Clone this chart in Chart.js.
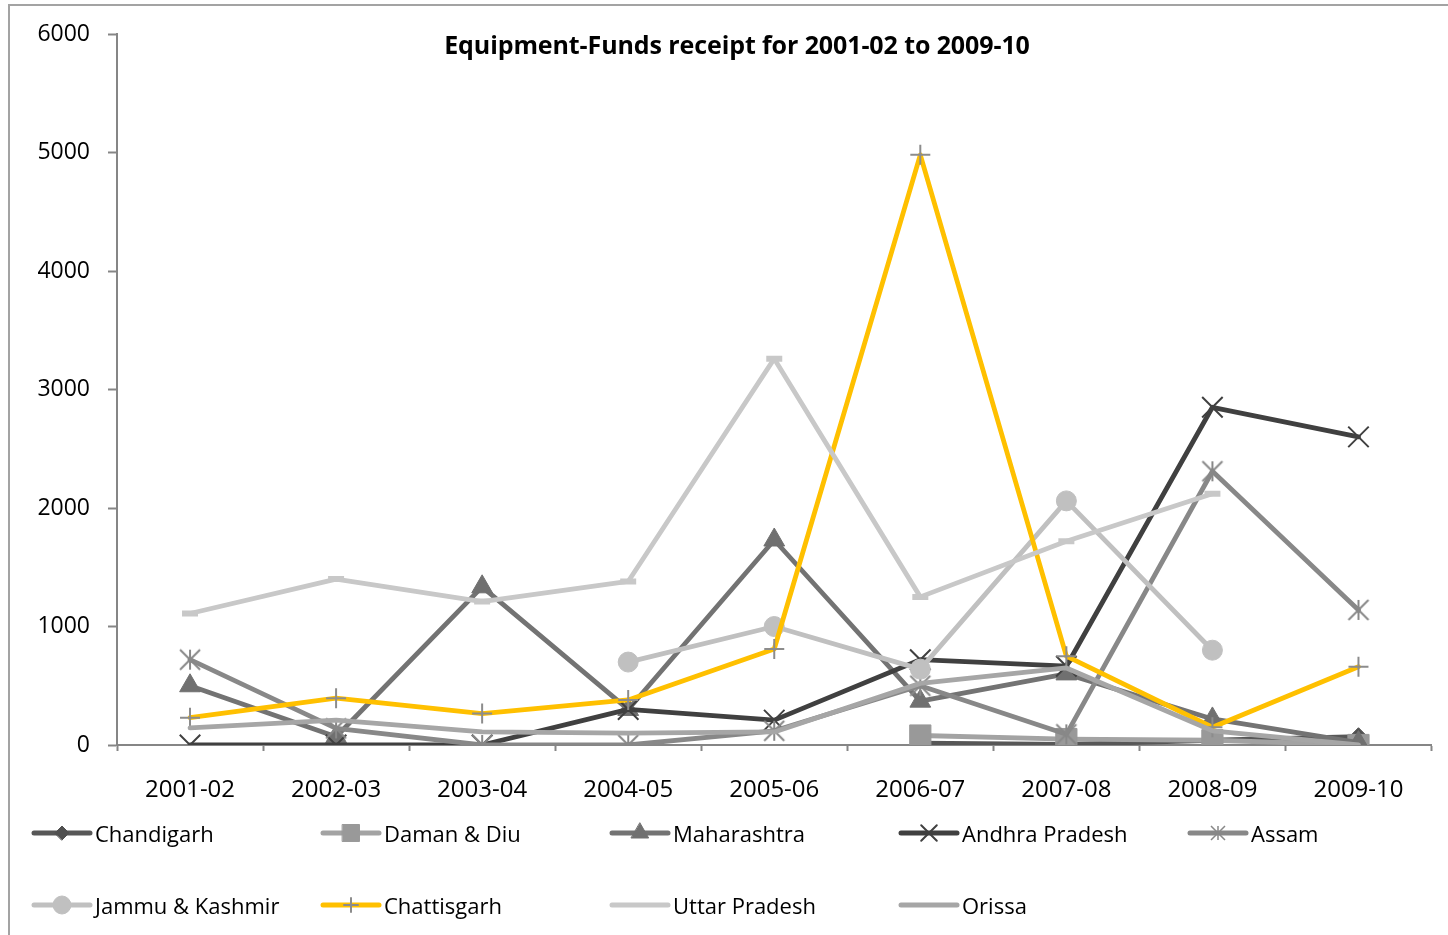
<!DOCTYPE html>
<html>
<head>
<meta charset="utf-8">
<script src="https://cdn.jsdelivr.net/npm/chart.js@4/dist/chart.umd.min.js"></script>
<style>
  html, body { margin: 0; padding: 0; background: #fff; overflow: hidden; }
  #wrap { position: relative; width: 1448px; height: 935px; overflow: hidden; }
  #frame { position: absolute; left: 8px; top: 4px; width: 1500px; height: 1000px; border: 2px solid #a3a3a3; box-sizing: border-box; }
  #c { position: absolute; left: 0; top: 0; }
  #title { position: absolute; left: 0; width: 1474px; top: 27px; text-align: center; font-family: "Open Sans", sans-serif; font-weight: bold; font-size: 25px; letter-spacing: -0.1px; color: #000; }
  .lg { position: absolute; height: 30px; display: flex; align-items: center; font-family: "Open Sans", sans-serif; font-size: 22px; color: #000; white-space: nowrap; }
  .lg canvas { margin-right: 1px; }
</style>
</head>
<body>
<div id="wrap">
  <div id="frame"></div>
  <canvas id="c" width="1448" height="935"></canvas>
  <div id="title">Equipment-Funds receipt for 2001-02 to 2009-10</div>
  <div id="legend"></div>
</div>
<script>
// ---- data ----
const categories = ['2001-02','2002-03','2003-04','2004-05','2005-06','2006-07','2007-08','2008-09','2009-10'];
const seriesNames = ['Chandigarh','Daman & Diu','Maharashtra','Andhra Pradesh','Assam','Jammu & Kashmir','Chattisgarh','Uttar Pradesh','Orissa'];
const chandigarh    = [null, null, null, null, null, 15, 5, 40, 70];
const damanDiu      = [null, null, null, null, null, 80, 50, 40, 0];
const maharashtra   = [500, 70, 1335, 300, 1730, 370, 600, 220, 20];
const andhraPradesh = [0, 0, 0, 300, 210, 720, 665, 2850, 2600];
const assam         = [720, 140, 0, 0, 120, 500, 90, 2310, 1140];
const jammuKashmir  = [null, null, null, 700, 1000, 640, 2060, 800, null];
const chattisgarh   = [230, 395, 265, 380, 810, 4980, 750, 150, 660];
const uttarPradesh  = [1110, 1400, 1210, 1380, 3260, 1250, 1720, 2120, null];
const orissa        = [145, 210, 110, 100, 110, 520, 650, 120, 0];
const yTicks = [0, 1000, 2000, 3000, 4000, 5000, 6000];
const yTickLabels = ['0', '1000', '2000', '3000', '4000', '5000', '6000'];

// asterisk marker (vertical + diagonals)
function makeAsterisk(color, half, lw) {
  const s = Math.ceil(half * 2 + lw + 2);
  const cv = document.createElement('canvas');
  cv.width = s; cv.height = s;
  const g = cv.getContext('2d');
  const c = s / 2;
  g.strokeStyle = color; g.lineWidth = lw;
  g.beginPath();
  g.moveTo(c, c - half); g.lineTo(c, c + half);
  g.moveTo(c - half, c - half); g.lineTo(c + half, c + half);
  g.moveTo(c + half, c - half); g.lineTo(c - half, c + half);
  g.stroke();
  return cv;
}

const styles = [
  { line: '#575757', fill: '#505050', border: '#505050', ps: 'rectRot', r: 9, bw: 1, lr: 7 },
  { line: '#a3a3a3', fill: '#999999', border: '#999999', ps: 'rect', r: 15, bw: 1, lr: 12 },
  { line: '#737373', fill: '#707070', border: '#707070', ps: 'triangle', r: 12, bw: 1, lr: 10 },
  { line: '#404040', fill: 'rgba(0,0,0,0)', border: '#404040', ps: 'crossRot', r: 14.5, bw: 2, lr: 11 },
  { line: '#888888', fill: 'rgba(0,0,0,0)', border: '#888888', ps: makeAsterisk('#888888', 10, 2), r: 10, bw: 2, lr: 8, lps: makeAsterisk('#888888', 7, 1.5) },
  { line: '#c0c0c0', fill: '#c0c0c0', border: '#c0c0c0', ps: 'circle', r: 10, bw: 1, lr: 9 },
  { line: '#ffc000', fill: 'rgba(0,0,0,0)', border: '#8c8c8c', ps: 'cross', r: 10, bw: 2, lr: 7 },
  { line: '#c8c8c8', fill: '#c8c8c8', border: '#c8c8c8', ps: 'line', r: 8, bw: 6, lr: 0 },
  { line: '#a6a6a6', fill: '#a6a6a6', border: '#a6a6a6', ps: 'circle', r: 0, bw: 0, lr: 0 }
];
const seriesData = [chandigarh, damanDiu, maharashtra, andhraPradesh, assam, jammuKashmir, chattisgarh, uttarPradesh, orissa];

const datasets = seriesNames.map((name, i) => ({
  label: name,
  data: seriesData[i],
  borderColor: styles[i].line,
  backgroundColor: styles[i].fill,
  borderWidth: 4.8,
  borderJoinStyle: 'round',
  borderCapStyle: 'round',
  pointStyle: styles[i].ps,
  pointRadius: styles[i].r,
  pointHoverRadius: styles[i].r,
  pointBackgroundColor: styles[i].fill,
  pointBorderColor: styles[i].border,
  pointBorderWidth: styles[i].bw,
  tension: 0,
  spanGaps: false,
  fill: false,
  order: 9 - i
}));

const axisColor = '#868686';

new Chart(document.getElementById('c'), {
  type: 'line',
  data: { labels: categories, datasets },
  options: {
    responsive: false,
    devicePixelRatio: 1,
    animation: false,
    events: [],
    layout: { padding: { left: 0, top: 34, right: 15, bottom: 130 } },
    plugins: { legend: { display: false }, title: { display: false }, tooltip: { enabled: false } },
    scales: {
      x: {
        type: 'category',
        offset: true,
        afterFit: s => { s.height = 60; },
        border: { display: true, color: axisColor, width: 2 },
        grid: { display: true, offset: true, drawOnChartArea: false, drawTicks: true, tickLength: 6, color: axisColor, tickColor: axisColor, tickWidth: 2 },
        ticks: { color: '#000', font: { family: 'Open Sans', size: 24 }, padding: 25, maxRotation: 0, autoSkip: false }
      },
      y: {
        min: 0, max: 6000,
        afterFit: s => { s.width = 117; },
        afterBuildTicks: s => { s.ticks = yTicks.map(v => ({ value: v })); },
        border: { display: true, color: axisColor, width: 2 },
        grid: { display: true, drawOnChartArea: false, drawTicks: true, tickLength: 9, color: axisColor, tickColor: axisColor, tickWidth: 2 },
        ticks: { color: '#000', font: { family: 'Open Sans', size: 23 }, padding: 18,
                 callback: (v) => yTickLabels[yTicks.indexOf(v)] }
      }
    }
  }
});

// HTML legend
const legend = document.getElementById('legend');
seriesNames.forEach((name, i) => {
  const row = Math.floor(i / 5), col = i % 5;
  const item = document.createElement('div');
  item.className = 'lg';
  item.style.left = (30 + col * 289) + 'px';
  item.style.top = (row === 0 ? 818 : 890) + 'px';
  const cv = document.createElement('canvas');
  cv.width = 64; cv.height = 30;
  const g = cv.getContext('2d');
  const st = styles[i];
  g.strokeStyle = st.line; g.lineWidth = 5; g.lineCap = 'round';
  g.beginPath(); g.moveTo(4, 15); g.lineTo(60, 15); g.stroke();
  if (st.lr > 0) {
    g.fillStyle = st.fill; g.strokeStyle = st.border; g.lineWidth = st.bw;
    Chart.helpers.drawPoint(g, { pointStyle: st.lps || st.ps, radius: st.lr, rotation: 0, borderWidth: st.bw }, 32, 15);
  }
  const sp = document.createElement('span');
  sp.textContent = name;
  item.appendChild(cv); item.appendChild(sp);
  legend.appendChild(item);
});
</script>
</body>
</html>
